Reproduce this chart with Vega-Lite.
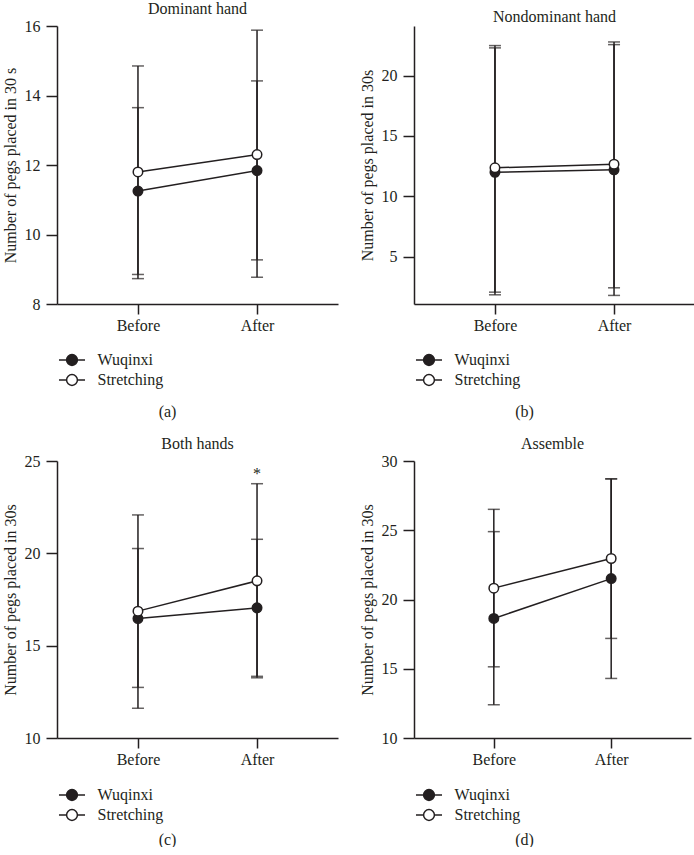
{
  "$schema": "https://vega.github.io/schema/vega-lite/v6.json",
  "padding": {"left": 2, "top": 0, "right": 0, "bottom": 0},
  "background": "white",
  "datasets": {
    "main": [
      {"panel": "a", "time": "Before", "group": "Wuqinxi", "mean": 11.25, "lo": 8.85, "hi": 13.65},
      {"panel": "a", "time": "Before", "group": "Stretching", "mean": 11.8, "lo": 8.73, "hi": 14.85},
      {"panel": "a", "time": "After", "group": "Wuqinxi", "mean": 11.84, "lo": 9.27, "hi": 14.42},
      {"panel": "a", "time": "After", "group": "Stretching", "mean": 12.3, "lo": 8.77, "hi": 15.88},
      {"panel": "b", "time": "Before", "group": "Wuqinxi", "mean": 12.0, "lo": 1.86, "hi": 22.29},
      {"panel": "b", "time": "Before", "group": "Stretching", "mean": 12.37, "lo": 2.08, "hi": 22.48},
      {"panel": "b", "time": "After", "group": "Wuqinxi", "mean": 12.2, "lo": 1.81, "hi": 22.56},
      {"panel": "b", "time": "After", "group": "Stretching", "mean": 12.67, "lo": 2.44, "hi": 22.78},
      {"panel": "c", "time": "Before", "group": "Wuqinxi", "mean": 16.47, "lo": 12.74, "hi": 20.26},
      {"panel": "c", "time": "Before", "group": "Stretching", "mean": 16.87, "lo": 11.61, "hi": 22.08},
      {"panel": "c", "time": "After", "group": "Wuqinxi", "mean": 17.05, "lo": 13.34, "hi": 20.76},
      {"panel": "c", "time": "After", "group": "Stretching", "mean": 18.51, "lo": 13.26, "hi": 23.77},
      {"panel": "d", "time": "Before", "group": "Wuqinxi", "mean": 18.63, "lo": 12.4, "hi": 24.9},
      {"panel": "d", "time": "Before", "group": "Stretching", "mean": 20.82, "lo": 15.14, "hi": 26.51},
      {"panel": "d", "time": "After", "group": "Wuqinxi", "mean": 21.51, "lo": 14.3, "hi": 28.72},
      {"panel": "d", "time": "After", "group": "Stretching", "mean": 22.96, "lo": 17.19, "hi": 28.7}
    ],
    "notes": [
      {"panel": "c", "time": "After", "pos": 24.3, "label": "*"}
    ]
  },
  "columns": 2,
  "bounds": "flush",
  "spacing": {"column": 76, "row": 157},
  "resolve": {
    "scale": {"x": "independent", "y": "independent", "fill": "independent"},
    "axis": {"x": "independent", "y": "independent"},
    "legend": {"fill": "independent"}
  },
  "concat": [
    {
      "width": 281, "height": 278,
      "title": "Dominant hand",
      "data": {"name": "main"},
      "transform": [{"filter": "datum.panel == 'a'"}],
      "encoding": {
        "x": {"field": "time", "type": "nominal", "sort": ["Before", "After"], "scale": {"type": "point", "padding": 0.68}, "axis": {"title": "(a)", "titleY": 107}}
      },
      "layer": [
        {"mark": {"type": "rule", "color": "#231f20", "strokeWidth": 1.5},
         "encoding": {"y": {"field": "lo", "type": "quantitative", "title": "Number of pegs placed in 30 s", "scale": {"domain": [8, 16], "nice": false, "zero": false}, "axis": {"values": [8, 10, 12, 14, 16]}}, "y2": {"field": "hi"}}},
        {"mark": {"type": "tick", "color": "#231f20", "thickness": 1.5, "size": 12},
         "encoding": {"y": {"field": "lo", "type": "quantitative", "title": "Number of pegs placed in 30 s"}}},
        {"mark": {"type": "tick", "color": "#231f20", "thickness": 1.5, "size": 12},
         "encoding": {"y": {"field": "hi", "type": "quantitative", "title": "Number of pegs placed in 30 s"}}},
        {"mark": {"type": "line", "color": "#231f20", "strokeWidth": 1.5},
         "encoding": {"y": {"field": "mean", "type": "quantitative", "title": "Number of pegs placed in 30 s"}, "detail": {"field": "group"}}},
        {"mark": {"type": "point", "shape": "circle", "size": 90, "filled": true, "opacity": 1, "stroke": "#231f20", "strokeWidth": 1.5},
         "encoding": {"y": {"field": "mean", "type": "quantitative", "title": "Number of pegs placed in 30 s"},
           "fill": {"field": "group", "type": "nominal", "scale": {"domain": ["Wuqinxi", "Stretching"], "range": ["#231f20", "white"]}, "legend": {"legendX": 4.5, "legendY": 323.5}}}}
      ]
    },
    {
      "width": 281, "height": 278,
      "title": "Nondominant hand",
      "data": {"name": "main"},
      "transform": [{"filter": "datum.panel == 'b'"}],
      "encoding": {
        "x": {"field": "time", "type": "nominal", "sort": ["Before", "After"], "scale": {"type": "point", "padding": 0.68}, "axis": {"title": "(b)", "titleY": 107}}
      },
      "layer": [
        {"mark": {"type": "rule", "color": "#231f20", "strokeWidth": 1.5},
         "encoding": {"y": {"field": "lo", "type": "quantitative", "title": "Number of pegs placed in 30s", "scale": {"domain": [1.1, 24.1], "nice": false, "zero": false}, "axis": {"values": [5, 10, 15, 20]}}, "y2": {"field": "hi"}}},
        {"mark": {"type": "tick", "color": "#231f20", "thickness": 1.5, "size": 12},
         "encoding": {"y": {"field": "lo", "type": "quantitative", "title": "Number of pegs placed in 30s"}}},
        {"mark": {"type": "tick", "color": "#231f20", "thickness": 1.5, "size": 12},
         "encoding": {"y": {"field": "hi", "type": "quantitative", "title": "Number of pegs placed in 30s"}}},
        {"mark": {"type": "line", "color": "#231f20", "strokeWidth": 1.5},
         "encoding": {"y": {"field": "mean", "type": "quantitative", "title": "Number of pegs placed in 30s"}, "detail": {"field": "group"}}},
        {"mark": {"type": "point", "shape": "circle", "size": 90, "filled": true, "opacity": 1, "stroke": "#231f20", "strokeWidth": 1.5},
         "encoding": {"y": {"field": "mean", "type": "quantitative", "title": "Number of pegs placed in 30s"},
           "fill": {"field": "group", "type": "nominal", "scale": {"domain": ["Wuqinxi", "Stretching"], "range": ["#231f20", "white"]}, "legend": {"legendX": 4.5, "legendY": 323.5}}}}
      ]
    },
    {
      "width": 281, "height": 277,
      "title": "Both hands",
      "data": {"name": "main"},
      "transform": [{"filter": "datum.panel == 'c'"}],
      "encoding": {
        "x": {"field": "time", "type": "nominal", "sort": ["Before", "After"], "scale": {"type": "point", "padding": 0.68}, "axis": {"title": "(c)", "titleY": 101}}
      },
      "layer": [
        {"mark": {"type": "rule", "color": "#231f20", "strokeWidth": 1.5},
         "encoding": {"y": {"field": "lo", "type": "quantitative", "title": "Number of pegs placed in 30s", "scale": {"domain": [10, 25], "nice": false, "zero": false}, "axis": {"values": [10, 15, 20, 25]}}, "y2": {"field": "hi"}}},
        {"mark": {"type": "tick", "color": "#231f20", "thickness": 1.5, "size": 12},
         "encoding": {"y": {"field": "lo", "type": "quantitative", "title": "Number of pegs placed in 30s"}}},
        {"mark": {"type": "tick", "color": "#231f20", "thickness": 1.5, "size": 12},
         "encoding": {"y": {"field": "hi", "type": "quantitative", "title": "Number of pegs placed in 30s"}}},
        {"mark": {"type": "line", "color": "#231f20", "strokeWidth": 1.5},
         "encoding": {"y": {"field": "mean", "type": "quantitative", "title": "Number of pegs placed in 30s"}, "detail": {"field": "group"}}},
        {"mark": {"type": "point", "shape": "circle", "size": 90, "filled": true, "opacity": 1, "stroke": "#231f20", "strokeWidth": 1.5},
         "encoding": {"y": {"field": "mean", "type": "quantitative", "title": "Number of pegs placed in 30s"},
           "fill": {"field": "group", "type": "nominal", "scale": {"domain": ["Wuqinxi", "Stretching"], "range": ["#231f20", "white"]}, "legend": {"legendX": 4.5, "legendY": 323.5}}}},
        {"data": {"name": "notes"},
         "mark": {"type": "text", "fontSize": 16, "color": "#231f20", "baseline": "middle"},
         "encoding": {"y": {"field": "pos", "type": "quantitative", "title": "Number of pegs placed in 30s"}, "text": {"field": "label"}}}
      ]
    },
    {
      "width": 277, "height": 277,
      "title": "Assemble",
      "data": {"name": "main"},
      "transform": [{"filter": "datum.panel == 'd'"}],
      "encoding": {
        "x": {"field": "time", "type": "nominal", "sort": ["Before", "After"], "scale": {"type": "point", "padding": 0.68}, "axis": {"title": "(d)", "titleY": 101}}
      },
      "layer": [
        {"mark": {"type": "rule", "color": "#231f20", "strokeWidth": 1.5},
         "encoding": {"y": {"field": "lo", "type": "quantitative", "title": "Number of pegs placed in 30s", "scale": {"domain": [10, 30], "nice": false, "zero": false}, "axis": {"values": [10, 15, 20, 25, 30]}}, "y2": {"field": "hi"}}},
        {"mark": {"type": "tick", "color": "#231f20", "thickness": 1.5, "size": 12},
         "encoding": {"y": {"field": "lo", "type": "quantitative", "title": "Number of pegs placed in 30s"}}},
        {"mark": {"type": "tick", "color": "#231f20", "thickness": 1.5, "size": 12},
         "encoding": {"y": {"field": "hi", "type": "quantitative", "title": "Number of pegs placed in 30s"}}},
        {"mark": {"type": "line", "color": "#231f20", "strokeWidth": 1.5},
         "encoding": {"y": {"field": "mean", "type": "quantitative", "title": "Number of pegs placed in 30s"}, "detail": {"field": "group"}}},
        {"mark": {"type": "point", "shape": "circle", "size": 90, "filled": true, "opacity": 1, "stroke": "#231f20", "strokeWidth": 1.5},
         "encoding": {"y": {"field": "mean", "type": "quantitative", "title": "Number of pegs placed in 30s"},
           "fill": {"field": "group", "type": "nominal", "scale": {"domain": ["Wuqinxi", "Stretching"], "range": ["#231f20", "white"]}, "legend": {"legendX": 4.5, "legendY": 323.5}}}}
      ]
    }
  ],
  "config": {
    "font": "Liberation Serif",
    "view": {"stroke": null},
    "axis": {
      "grid": false,
      "domainColor": "#231f20", "domainWidth": 1.5,
      "tickColor": "#231f20", "tickWidth": 1.5,
      "labelColor": "#231f20", "labelFont": "Liberation Serif", "labelFontSize": 16,
      "titleColor": "#231f20", "titleFont": "Liberation Serif", "titleFontSize": 16, "titleFontWeight": "normal"
    },
    "axisY": {"tickSize": 11, "labelPadding": 6, "titleX": -47, "titleBaseline": "middle", "labelFlush": false},
    "axisX": {"tickSize": 10, "labelPadding": 3, "labelAngle": 0, "titleX": 110, "titleBaseline": "middle", "titleAlign": "center"},
    "title": {"font": "Liberation Serif", "fontSize": 16, "fontWeight": "normal", "color": "#231f20", "anchor": "middle", "offset": 1.5},
    "legend": {
      "orient": "none", "title": null, "padding": 0,
      "symbolType": "M-1.37,0H-0.57M0.57,0H1.37M0.57,0A0.57,0.57,0,1,1,-0.57,0A0.57,0.57,0,1,1,0.57,0Z",
      "symbolSize": 361, "symbolStrokeColor": "#231f20", "symbolStrokeWidth": 1.5,
      "labelFont": "Liberation Serif", "labelFontSize": 16, "labelColor": "#231f20", "labelOffset": 15,
      "rowPadding": 1
    }
  }
}
